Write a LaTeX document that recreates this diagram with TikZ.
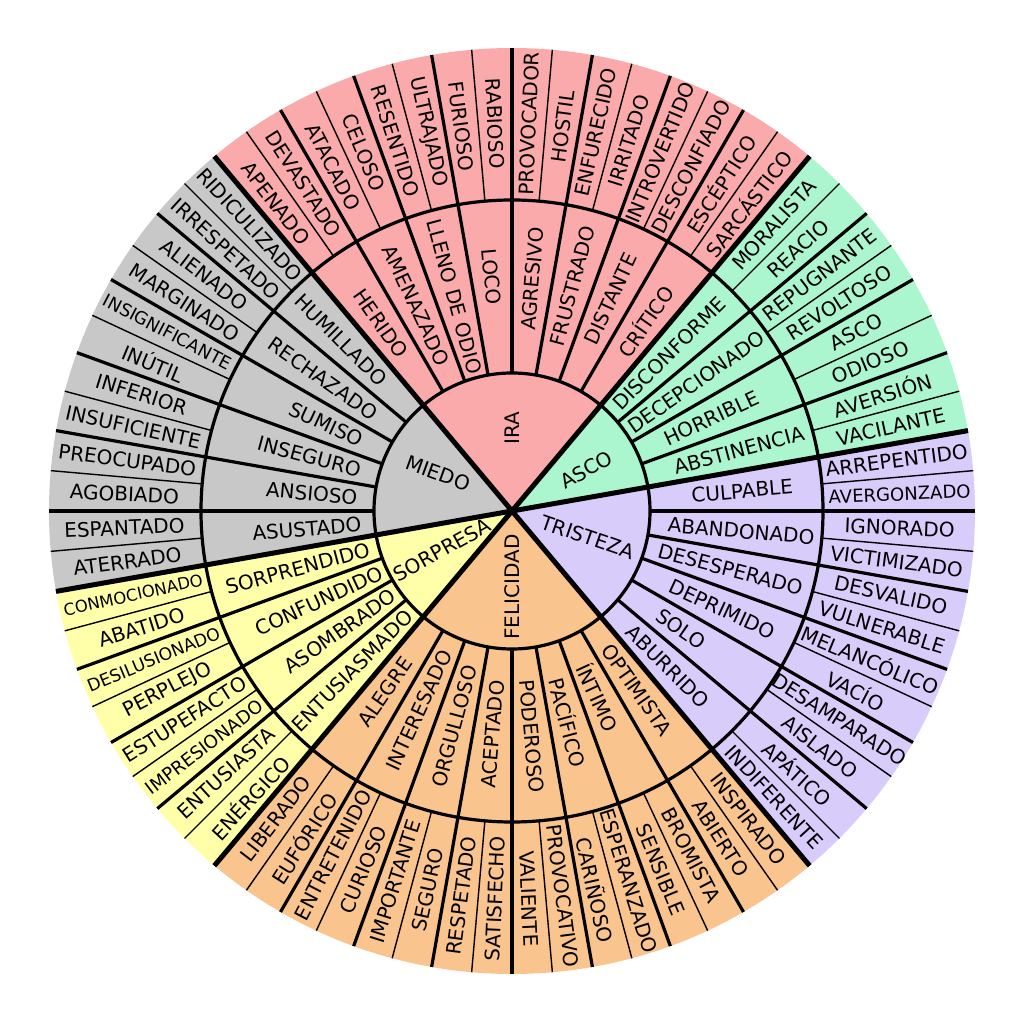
\documentclass[tikz,border=0pt]{standalone}
\usepackage{fontspec}
\setmainfont{DejaVu Sans}
\usepackage{graphicx}
\definecolor{ira}{RGB}{250,170,170}
\definecolor{asco}{RGB}{172,246,207}
\definecolor{tri}{RGB}{216,204,250}
\definecolor{fel}{RGB}{250,196,142}
\definecolor{sor}{RGB}{255,255,170}
\definecolor{mie}{RGB}{200,200,200}
\newcommand\sm[1]{\resizebox{142pt}{!}{#1}}
\begin{document}
\begin{tikzpicture}[x=1pt,y=1pt,
  lbl/.style={font=\fontsize{20}{22}\selectfont, inner sep=0pt, text=black},
  thinln/.style={line width=1.4pt},
  midln/.style={line width=3.2pt},
  coreln/.style={line width=5pt}]
\useasboundingbox (-512,-513) rectangle (512,511);
\def\Ra{138}\def\Rb{311}\def\Rc{463}
% sector fills
\foreach \a/\b/\c in {50/130/ira, 10/50/asco, -50/10/tri, -130/-50/fel, -170/-130/sor, 130/190/mie}
  \fill[\c] (0,0) -- (\a:\Rc) arc[start angle=\a, end angle=\b, radius=\Rc] -- cycle;
% thin outer-ring lines
\foreach \t in {5,15,...,355}
  \draw[thinln] (\t:\Rb) -- (\t:\Rc);
% medium lines
\foreach \t in {0,10,...,350}
  \draw[midln] (\t:\Ra) -- (\t:\Rc);
\draw[midln] (0,0) circle[radius=\Ra];
\draw[midln] (0,0) circle[radius=\Rb];
% core boundaries
\foreach \t in {130,50,10,-50,-130,-170}
  \draw[coreln] (0,0) -- (\t:\Rc);
% outer labels
\foreach \ang/\txt in {
  127.5/APENADO, 122.5/DEVASTADO, 117.5/ATACADO, 112.5/CELOSO, 107.5/RESENTIDO, 102.5/ULTRAJADO,
  97.5/FURIOSO, 92.5/RABIOSO, 87.5/PROVOCADOR, 82.5/HOSTIL, 77.5/ENFURECIDO, 72.5/IRRITADO,
  67.5/INTROVERTIDO, 62.5/DESCONFIADO, 57.5/ESCÉPTICO, 52.5/SARCÁSTICO,
  47.5/MORALISTA, 42.5/REACIO, 37.5/REPUGNANTE, 32.5/REVOLTOSO, 27.5/ASCO, 22.5/ODIOSO,
  17.5/AVERSIÓN, 12.5/VACILANTE,
  7.5/ARREPENTIDO, 2.5/\sm{AVERGONZADO}, -2.5/IGNORADO, -7.5/VICTIMIZADO, -12.5/DESVALIDO,
  -17.5/VULNERABLE, -22.5/MELANCÓLICO, -27.5/VACÍO, -32.5/DESAMPARADO, -37.5/AISLADO,
  -42.5/APÁTICO, -47.5/INDIFERENTE,
  -52.5/INSPIRADO, -57.5/ABIERTO, -62.5/BROMISTA, -67.5/SENSIBLE, -72.5/ESPERANZADO,
  -77.5/CARIÑOSO, -82.5/PROVOCATIVO, -87.5/VALIENTE, -92.5/SATISFECHO, -97.5/RESPETADO,
  -102.5/SEGURO, -107.5/IMPORTANTE, -112.5/CURIOSO, -117.5/ENTRETENIDO, -122.5/EUFÓRICO,
  -127.5/LIBERADO,
  -132.5/ENÉRGICO, -137.5/ENTUSIASTA, -142.5/\sm{IMPRESIONADO}, -147.5/ESTUPEFACTO,
  -152.5/PERPLEJO, -157.5/\sm{DESILUSIONADO}, -162.5/ABATIDO, -167.5/\sm{CONMOCIONADO},
  -172.5/ATERRADO, -177.5/ESPANTADO, 177.5/AGOBIADO, 172.5/PREOCUPADO, 167.5/INSUFICIENTE,
  162.5/INFERIOR, 157.5/INÚTIL, 152.5/\sm{INSIGNIFICANTE}, 147.5/MARGINADO, 142.5/ALIENADO,
  137.5/IRRESPETADO, 132.5/RIDICULIZADO}
{
  \pgfmathsetmacro\rot{ifthenelse(and(\ang>-90,\ang<=90),\ang,\ang+180)}
  \node[lbl, rotate=\rot] at (\ang:388) {\txt};
}
% middle labels
\foreach \ang/\r/\txt in {
  125/229/HERIDO, 115/227/AMENAZADO, 105/222/LLENO DE ODIO, 95/235/LOCO, 85/233/AGRESIVO,
  75/233/FRUSTRADO, 65/234/DISTANTE, 55/232/CRÍTICO,
  45/223/DISCONFORME, 35/225/DECEPCIONADO, 25/220/HORRIBLE, 15/235/ABSTINENCIA,
  5/231/CULPABLE, -5/230/ABANDONADO, -15/226/DESESPERADO, -25/232/DEPRIMIDO, -35/206/SOLO,
  -45/220/ABURRIDO,
  -55/218/OPTIMISTA, -65/205/ÍNTIMO, -75/219/PACÍFICO, -85/226/PODEROSO, -95/224/ACEPTADO,
  -105/223/ORGULLOSO, -115/220/INTERESADO, -125/221/ALEGRE,
  -135/226/ENTUSIASMADO, -145/210/ASOMBRADO, -155/213/CONFUNDIDO, -165/222/SORPRENDIDO,
  -175/206/ASUSTADO, 175/201/ANSIOSO, 165/210/INSEGURO, 155/205/SUMISO, 145/231/RECHAZADO,
  135/242/HUMILLADO}
{
  \pgfmathsetmacro\rot{ifthenelse(and(\ang>-90,\ang<=90),\ang,\ang+180)}
  \node[lbl, rotate=\rot] at (\ang:\r) {\txt};
}
% inner labels
\node[lbl, rotate=90] (ira) at (90:83) {IRA};
\node[lbl, rotate=29] (asco) at (29:85) {ASCO};
\node[lbl, rotate=-19] (tristeza) at (-19:80) {TRISTEZA};
\node[lbl, rotate=90] (felicidad) at (-90:76) {FELICIDAD};
\node[lbl, rotate=29] (sorpresa) at (-151:80) {SORPRESA};
\node[lbl, rotate=-20] (miedo) at (153:83) {MIEDO};
\end{tikzpicture}
\end{document}
